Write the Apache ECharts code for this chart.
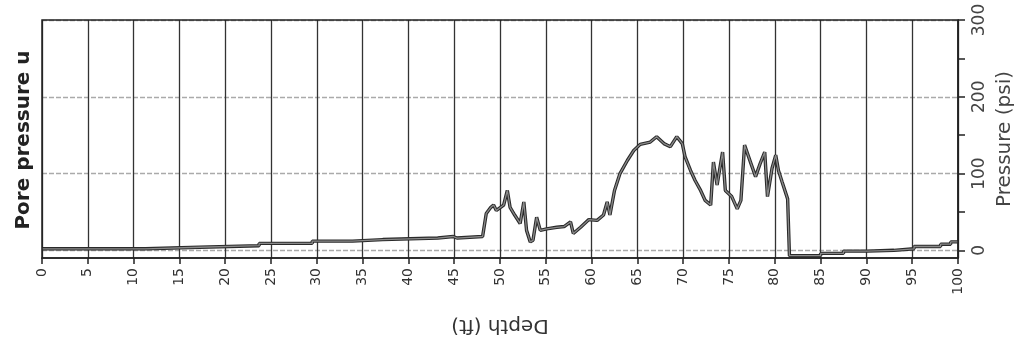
<!DOCTYPE html>
<html>
<head>
<meta charset="utf-8">
<script src="https://cdn.jsdelivr.net/npm/echarts@6/dist/echarts.min.js"></script>
<style>html,body{margin:0;padding:0;background:#fff;}#c{width:1015px;height:341px;}</style>
</head>
<body>
<div id="c"></div>
<script>
// Depth (ft) and pore pressure (psi)
var depths = [0, 11.3, 11.3, 17.2, 17.2, 23.7, 23.7, 29.5, 29.5, 33.9, 33.9, 37.2, 37.2, 43.2, 43.2, 44.9, 44.9, 45.3, 45.3, 48.1,
  48.5, 49.0, 49.3, 49.6, 50.4, 50.8, 51.1, 51.6, 52.2, 52.6, 52.9, 53.3, 53.6, 54.0, 54.4, 55.1, 56.2, 57.0, 57.7, 58.0,
  58.8, 59.7, 60.6, 61.3, 61.7, 62.0, 62.5, 63.1, 63.9, 64.6, 65.3, 66.4, 67.1, 67.9, 68.6, 69.3, 69.9, 70.2, 70.8, 71.3,
  71.9, 72.4, 73.0, 73.3, 73.7, 74.3, 74.6, 75.3, 75.9, 76.3, 76.7, 77.4, 77.9, 78.4, 78.9, 79.2, 79.7, 80.1, 80.4, 80.8,
  81.4, 81.6, 85.0, 85.0, 87.5, 87.5, 90.1, 90.1, 93.0, 93.0, 95.2, 95.2, 98.1, 98.1, 99.2, 99.2, 100];
var pressures = [2, 2, 4, 4, 6, 6, 9, 9, 12, 12, 14, 14, 16, 16, 18, 18, 16, 16, 18, 18,
  48, 56, 59, 52, 59, 78, 56, 46, 35, 63, 26, 11, 13, 43, 26, 28, 30, 31, 37, 22,
  30, 40, 39, 46, 63, 46, 78, 100, 117, 130, 138, 141, 148, 139, 135, 148, 139, 122, 104, 91,
  78, 65, 59, 115, 85, 128, 78, 70, 54, 65, 137, 113, 96, 113, 128, 70, 107, 124, 104, 89,
  67, -7, -7, -4, -4, -1, -1, 0, 0, 2, 2, 5, 5, 8, 8, 11, 11];
var xRange = [0, 100], xInterval = 5;
var yRange = [-10, 300];          // data axis (bottom frame sits a little below 0)
var yTickRange = [0, 300], yInterval = 100;   // labelled scale, minor ticks at 50

var pts = depths.map(function (d, i) { return [d, pressures[i]]; });

var L = 42, R = 57, T = 20, B = 83;
var H = 341 - T - B;
var zeroOffset = H * (0 - yRange[0]) / (yRange[1] - yRange[0]);

var chart = echarts.init(document.getElementById('c'));
chart.setOption({
  backgroundColor: '#fff',
  animation: false,
  grid: [
    { left: L, right: R, top: T, bottom: B, show: true, z: 5, borderColor: '#222', borderWidth: 1.5, outerBoundsMode: 'none', containLabel: false },
    { left: L, right: R, top: T, bottom: B + zeroOffset, outerBoundsMode: 'none', containLabel: false }
  ],
  xAxis: [{
    gridIndex: 0, type: 'value', min: xRange[0], max: xRange[1], interval: xInterval,
    name: 'Depth (ft)', nameLocation: 'middle', nameGap: 57, nameRotate: 180,
    nameTextStyle: { fontFamily: 'DejaVu Sans', fontSize: 20, color: '#333' },
    axisLine: { show: true, onZero: false, lineStyle: { color: '#222', width: 1.5 } },
    axisTick: { show: true, length: 6, lineStyle: { color: '#222', width: 1.5 } },
    axisLabel: { rotate: 90, margin: 10, fontFamily: 'DejaVu Sans', fontSize: 14, color: '#333' },
    splitLine: { show: true, lineStyle: { color: '#333', width: 1.3 } }
  }, {
    gridIndex: 1, type: 'value', min: xRange[0], max: xRange[1], show: false
  }],
  yAxis: [{
    gridIndex: 0, type: 'value', position: 'right', min: yRange[0], max: yRange[1],
    name: 'Pressure (psi)', nameLocation: 'middle', nameGap: 37, nameRotate: 90,
    nameTextStyle: { fontFamily: 'DejaVu Sans', fontSize: 20, color: '#444' },
    axisLine: { show: true, onZero: false, lineStyle: { color: '#222', width: 1.5 } },
    axisTick: { show: false }, axisLabel: { show: false }, splitLine: { show: false }
  }, {
    gridIndex: 1, type: 'value', position: 'right', min: yTickRange[0], max: yTickRange[1], interval: yInterval, z: -1,
    axisLine: { show: false, onZero: false },
    axisTick: { show: true, length: 7, lineStyle: { color: '#222', width: 1.5 } },
    minorTick: { show: true, splitNumber: 2, length: 7, lineStyle: { color: '#222', width: 1.5 } },
    axisLabel: { rotate: 90, margin: 13, fontFamily: 'DejaVu Sans', fontSize: 17, color: '#444' },
    splitLine: { show: true, lineStyle: { color: '#aaa', type: [5, 2], width: 1.3 } }
  }],
  graphic: [{
    type: 'text', x: 24, y: 140, rotation: Math.PI / 2,
    style: { text: 'Pore pressure u', fontFamily: 'DejaVu Sans', fontWeight: 'bold', fontSize: 20, fill: '#222',
      align: 'center', verticalAlign: 'middle' }
  }],
  series: [
    {
      type: 'line', xAxisIndex: 0, yAxisIndex: 0, data: pts, showSymbol: false, silent: true, z: 3,
      lineStyle: { color: '#2a2a2a', width: 3.4 }
    },
    {
      type: 'line', xAxisIndex: 0, yAxisIndex: 0, data: pts, showSymbol: false, silent: true, z: 4,
      lineStyle: { color: '#8a8a8a', width: 1.3 }
    }
  ]
});
</script>
</body>
</html>
